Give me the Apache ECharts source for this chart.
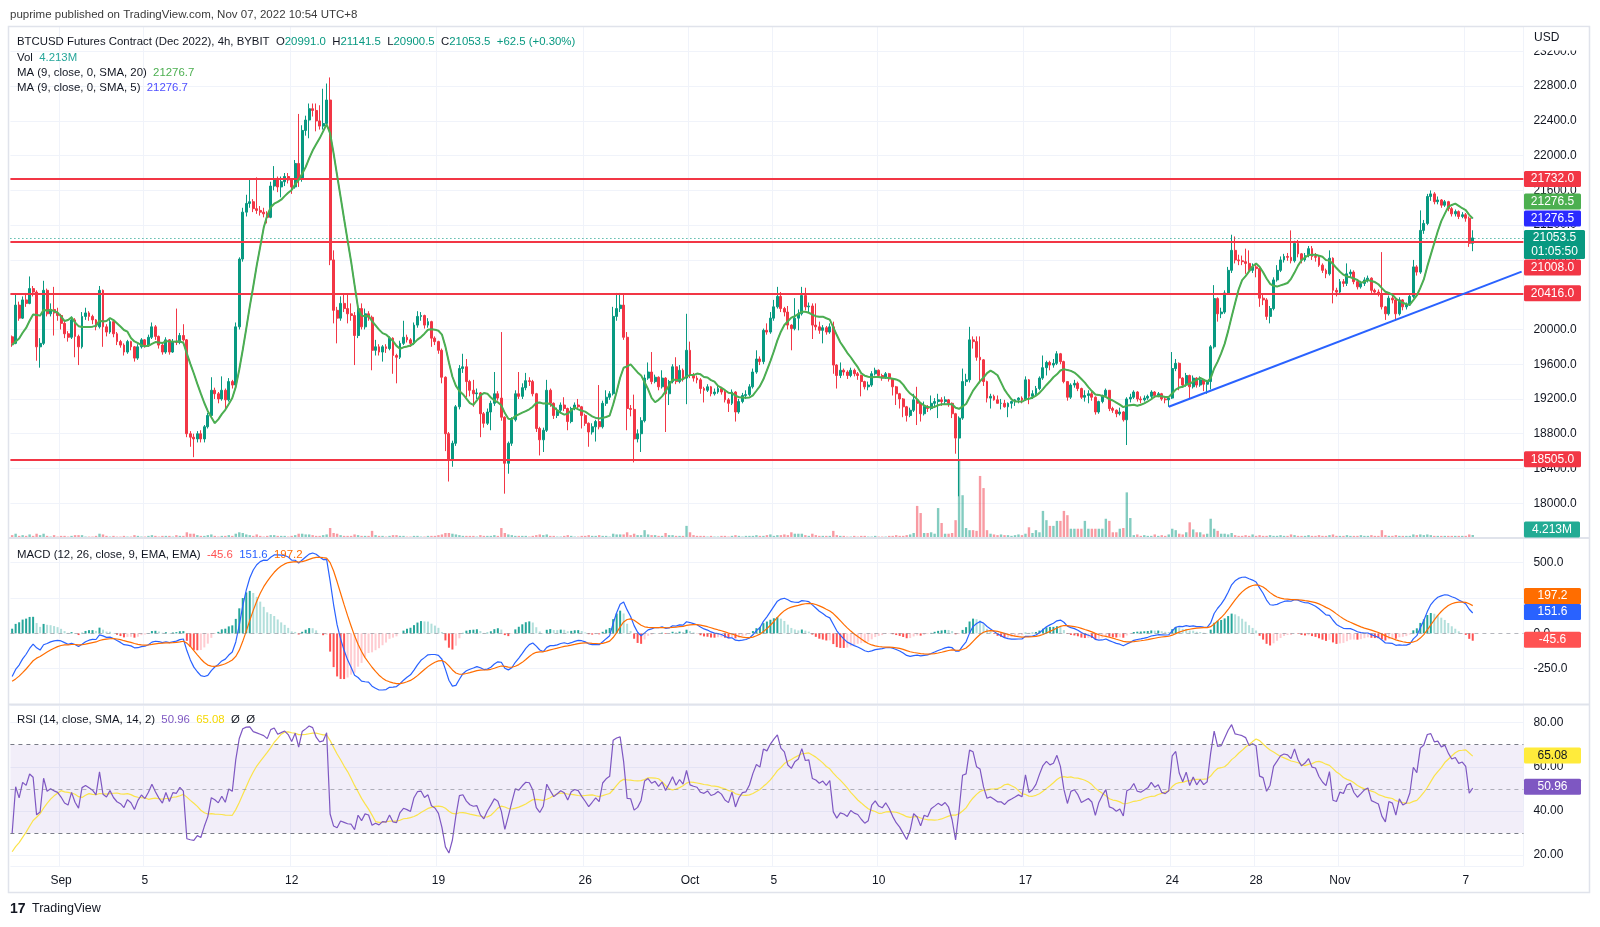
<!DOCTYPE html>
<html>
<head>
<meta charset="utf-8">
<script src="https://cdn.jsdelivr.net/npm/echarts@6/dist/echarts.min.js"></script>
<style>
  html, body { margin: 0; padding: 0; background: #ffffff; }
  #chart { width: 1600px; height: 927px; }
</style>
</head>
<body>
<div id="chart"></div>
<script>
// BTCUSD Dec 2022 futures, 4h candles, Aug 29 16:00 -> Nov 7 08:00 (UTC+8)

// closes before the visible range, only used to warm up MA / MACD / RSI
const warmupCloses = [
  21450, 21380, 21420, 21500, 21460, 21390, 21350, 21420, 21480, 21530,
  21470, 21440, 21390, 21300, 21250, 21330, 21280, 21200, 21100, 21050,
  21120, 21180, 21240, 21300, 21380, 21420, 21500, 21560, 21600, 21620,
  21580, 21650, 21700, 21620, 21560, 21500, 21520, 21450, 21300, 20700,
  20450, 20300, 20350, 20280, 20200, 20230, 20150, 20080, 20120, 20050,
  19950, 19980, 19900, 19820, 19750, 19800, 19720, 19780, 19850, 19915,
];

const closes = [
  19840, 20280, 20130, 20340, 20300, 20470, 20430, 19800, 19840, 20450, // 0
  20180, 20230, 20190, 20160, 20070, 19950, 19910, 20110, 19920, 19800, // 10
  20150, 20190, 20150, 20110, 20030, 20450, 20030, 19970, 20090, 19950, // 20
  19860, 19820, 19740, 19860, 19800, 19670, 19800, 19880, 19820, 19910, // 30
  20030, 19920, 19820, 19740, 19880, 19740, 19860, 19850, 19930, 19880, // 40
  18800, 18760, 18740, 18800, 18740, 18880, 19010, 19300, 19260, 19200, // 50
  19300, 19190, 19400, 19360, 20030, 20810, 21350, 21450, 21470, 21390, // 60
  21370, 21350, 21330, 21290, 21650, 21720, 21640, 21700, 21760, 21720, // 70
  21640, 21910, 21740, 22290, 22410, 22540, 22520, 22400, 22340, 22370, // 80
  22640, 20800, 20220, 20130, 20300, 20240, 20180, 20160, 19930, 20240, // 90
  20030, 20180, 20140, 19760, 19800, 19740, 19800, 19780, 19900, 19700, // 100
  19680, 19840, 19910, 19880, 19840, 20050, 20150, 20160, 20050, 20090, // 110
  19900, 19860, 19760, 19450, 18800, 18500, 18690, 19110, 19550, 19570, // 120
  19400, 19300, 19260, 19270, 19030, 18920, 19050, 19150, 19260, 19210, // 130
  18990, 18460, 18690, 18960, 19260, 19230, 19330, 19410, 19400, 19260, // 140
  18860, 18730, 18840, 19300, 19150, 19010, 19070, 19130, 19090, 18940, // 150
  19090, 19130, 19110, 19010, 18920, 18820, 18880, 18940, 18880, 19150, // 160
  19220, 19260, 20150, 20240, 20280, 19910, 19090, 19080, 18740, 18800, // 170
  18950, 19440, 19510, 19400, 19450, 19340, 19440, 19260, 19400, 19570, // 180
  19400, 19530, 19440, 19760, 19470, 19440, 19420, 19320, 19300, 19340, // 190
  19260, 19280, 19320, 19280, 19190, 19150, 19280, 19050, 19170, 19240, // 200
  19250, 19340, 19510, 19660, 19630, 19990, 19970, 20130, 20260, 20380, // 210
  20240, 20200, 20050, 20010, 20130, 20180, 20390, 20260, 20270, 20050, // 220
  20030, 19990, 20020, 19970, 20030, 19590, 19470, 19530, 19510, 19470, // 230
  19530, 19490, 19470, 19400, 19340, 19360, 19490, 19530, 19470, 19450, // 240
  19490, 19430, 19340, 19260, 19200, 19110, 19010, 19070, 19190, 19150, // 250
  19030, 19110, 19090, 19150, 19170, 19190, 19170, 19190, 19150, 19030, // 260
  18750, 18980, 19400, 19420, 19880, 19860, 19680, 19650, 19400, 19210, // 270
  19230, 19190, 19150, 19150, 19110, 19150, 19170, 19190, 19210, 19190, // 280
  19420, 19230, 19260, 19320, 19440, 19560, 19620, 19590, 19610, 19720, // 290
  19630, 19400, 19220, 19360, 19380, 19320, 19220, 19240, 19260, 19220, // 300
  19050, 19170, 19240, 19300, 19090, 19070, 19030, 19050, 18960, 19200, // 310
  19220, 19280, 19200, 19190, 19210, 19230, 19280, 19240, 19260, 19200, // 320
  19190, 19210, 19550, 19610, 19440, 19360, 19470, 19340, 19440, 19360, // 330
  19420, 19370, 19400, 19800, 20355, 20180, 20200, 20420, 20680, 20910, // 340
  20800, 20790, 20780, 20760, 20680, 20720, 20700, 20360, 20340, 20150, // 350
  20240, 20570, 20680, 20800, 20840, 20830, 20790, 20990, 20870, 20800, // 360
  20850, 20930, 20840, 20830, 20740, 20680, 20640, 20820, 20450, 20430, // 370
  20550, 20530, 20640, 20660, 20550, 20490, 20530, 20570, 20590, 20450, // 380
  20430, 20410, 20260, 20180, 20360, 20340, 20180, 20340, 20260, 20280, // 390
  20380, 20720, 20660, 21140, 21220, 21530, 21560, 21470, 21490, 21430, // 400
  21470, 21390, 21330, 21356, 21300, 21320, 21280, 20991, 21053.5,      // 410
];

const highs = [
  19930, 20400, 20320, 20380, 20420, 20610, 20500, 20450, 19900, 20560,
  20470, 20300, 20490, 20250, 20180, 20090, 19980, 20150, 20130, 19940,
  20200, 20250, 20210, 20170, 20120, 20500, 20460, 20060, 20130, 20100,
  19970, 19880, 19840, 19880, 19870, 19810, 19830, 19900, 19890, 19940,
  20080, 20050, 19930, 19840, 19910, 19890, 19890, 20240, 19960, 20060,
  19890, 18830, 18800, 18830, 18840, 18900, 19040, 19450, 19330, 19280,
  19460, 19320, 19440, 19420, 20080, 20830, 21400, 21550, 21740, 21500,
  21750, 21420, 21400, 21360, 21700, 21880, 21760, 21760, 21800, 21800,
  21700, 21950, 22480, 22350, 22460, 22600, 22600, 22600, 22580, 22770,
  22830, 22900, 20910, 20260, 20380, 20410, 20400, 20300, 20200, 20280,
  20300, 20240, 20210, 20160, 19880, 19830, 19820, 19830, 19920, 19910,
  19720, 19870, 20100, 19940, 19900, 20080, 20210, 20200, 20170, 20130,
  20100, 19920, 19870, 19780, 19460, 18820, 18720, 19130, 19590, 19720,
  19660, 19420, 19420, 19320, 19280, 19050, 19090, 19180, 19510, 19290,
  19970, 19000, 18710, 18990, 19300, 19510, 19380, 19500, 19450, 19420,
  19270, 18880, 18870, 19420, 19320, 19160, 19100, 19160, 19220, 19100,
  19110, 19160, 19200, 19120, 19030, 18930, 18920, 18960, 19360, 19180,
  19300, 19290, 20260, 20420, 20420, 20410, 19970, 19130, 19250, 18850,
  18990, 19480, 19620, 19740, 19480, 19460, 19530, 19450, 19420, 19600,
  19680, 19590, 19550, 20180, 19860, 19500, 19470, 19440, 19340, 19370,
  19350, 19320, 19360, 19340, 19300, 19210, 19310, 19290, 19200, 19270,
  19300, 19370, 19550, 19760, 19690, 20010, 20070, 20200, 20340, 20490,
  20430, 20260, 20270, 20060, 20360, 20230, 20490, 20480, 20310, 20300,
  20300, 20090, 20050, 20040, 20070, 20090, 19600, 19620, 19550, 19530,
  19560, 19550, 19510, 19480, 19410, 19400, 19520, 19560, 19540, 19490,
  19510, 19500, 19440, 19350, 19270, 19210, 19120, 19100, 19260, 19340,
  19160, 19170, 19130, 19240, 19210, 19260, 19220, 19230, 19200, 19160,
  19040, 19000, 19550, 19490, 20030, 19920, 19920, 19920, 19660, 19410,
  19260, 19250, 19240, 19200, 19190, 19160, 19180, 19200, 19220, 19230,
  19460, 19430, 19300, 19350, 19460, 19700, 19640, 19640, 19660, 19750,
  19730, 19640, 19400, 19380, 19420, 19400, 19330, 19300, 19300, 19280,
  19230, 19180, 19250, 19320, 19300, 19110, 19080, 19100, 19060, 19220,
  19260, 19300, 19290, 19230, 19240, 19250, 19300, 19290, 19280, 19270,
  19230, 19230, 19740, 19660, 19620, 19450, 19500, 19480, 19470, 19450,
  19460, 19430, 19420, 19820, 20510, 20370, 20250, 20450, 20720, 21090,
  21070, 20860, 20850, 20930, 20910, 20760, 20760, 20710, 20400, 20360,
  20270, 20600, 20740, 20840, 20870, 20880, 21140, 21020, 21030, 20880,
  20880, 20960, 20960, 20880, 20850, 20760, 20700, 20910, 20830, 20480,
  20580, 20580, 20760, 20690, 20680, 20570, 20560, 20600, 20620, 20600,
  20470, 20460, 20890, 20270, 20390, 20400, 20350, 20370, 20350, 20310,
  20410, 20800, 20740, 21370, 21260, 21560, 21600, 21580, 21530, 21500,
  21490, 21480, 21410, 21380, 21370, 21350, 21340, 21300, 21141.5,
];

const lows = [
  19800, 19830, 20100, 20120, 20260, 20290, 20380, 19640, 19560, 19820,
  20150, 20150, 19930, 20100, 20000, 19900, 19860, 19890, 19680, 19590,
  19780, 20110, 20100, 20060, 19990, 20010, 19800, 19920, 19950, 19910,
  19820, 19790, 19700, 19720, 19760, 19630, 19650, 19780, 19790, 19800,
  19890, 19880, 19780, 19710, 19720, 19710, 19730, 19820, 19830, 19860,
  18760, 18650, 18530, 18700, 18700, 18700, 18860, 19000, 19200, 19150,
  19180, 19080, 19170, 19320, 19340, 20000, 20780, 21300, 21400, 21350,
  21330, 21310, 21290, 21220, 21280, 21600, 21580, 21520, 21650, 21680,
  21560, 21620, 21640, 21700, 22230, 22200, 22450, 22280, 22300, 22300,
  22350, 20740, 20070, 19840, 20100, 20200, 20070, 20100, 19590, 19900,
  20000, 20000, 20100, 19530, 19700, 19700, 19630, 19730, 19760, 19490,
  19380, 19660, 19820, 19850, 19800, 19820, 20020, 20100, 20010, 20020,
  19800, 19820, 19720, 19380, 18600, 18250, 18420, 18660, 19080, 19500,
  19220, 19230, 19110, 19200, 18760, 18870, 18900, 18840, 19120, 19180,
  18950, 18110, 18340, 18660, 18940, 19200, 19200, 19300, 19350, 19230,
  18820, 18550, 18590, 18820, 19110, 18970, 18980, 19040, 19060, 18840,
  18920, 19070, 19080, 18860, 18890, 18650, 18790, 18710, 18850, 18860,
  19120, 19190, 19240, 20100, 20200, 19880, 18840, 19000, 18470, 18700,
  18590, 18930, 19420, 19370, 19380, 19300, 19320, 18820, 19130, 19380,
  19370, 19380, 19400, 19140, 19440, 19400, 19380, 19260, 19160, 19280,
  19230, 19240, 19260, 19250, 19160, 19050, 19130, 18940, 19030, 19150,
  19200, 19230, 19320, 19490, 19590, 19600, 19940, 19950, 20100, 20240,
  20200, 20150, 20000, 19760, 19990, 19990, 20160, 20220, 20200, 19890,
  19990, 19950, 19840, 19940, 19950, 19490, 19320, 19440, 19470, 19430,
  19450, 19460, 19420, 19230, 19310, 19300, 19340, 19470, 19440, 19410,
  19430, 19400, 19240, 19130, 19090, 18990, 18940, 18990, 19050, 18900,
  18940, 19010, 19050, 19070, 19110, 18980, 19120, 19140, 19110, 18980,
  18570, 18080, 18960, 19350, 19390, 19780, 19640, 19380, 19350, 19160,
  19090, 19180, 19150, 19080, 19100, 18990, 19090, 19120, 19150, 19150,
  19180, 19140, 19200, 19230, 19300, 19420, 19470, 19530, 19560, 19590,
  19600, 19380, 19180, 19200, 19330, 19290, 19200, 19170, 19150, 19180,
  19020, 19030, 19150, 19220, 19060, 19040, 18990, 19010, 18940, 18670,
  19160, 19200, 19170, 19150, 19170, 19190, 19200, 19210, 19220, 19180,
  19150, 19110, 19200, 19520, 19300, 19330, 19340, 19200, 19320, 19330,
  19340, 19290, 19260, 19310, 19780, 20090, 20130, 20180, 20400, 20650,
  20760, 20740, 20740, 20640, 20650, 20650, 20600, 20260, 20280, 20110,
  20070, 20220, 20550, 20660, 20770, 20790, 20760, 20770, 20830, 20760,
  20780, 20830, 20800, 20780, 20720, 20650, 20590, 20620, 20300, 20380,
  20400, 20490, 20500, 20600, 20520, 20460, 20470, 20500, 20540, 20420,
  20400, 20380, 20230, 20110, 20160, 20300, 20100, 20160, 20220, 20230,
  20270, 20360, 20620, 20640, 21100, 21200, 21480, 21440, 21440, 21400,
  21410, 21360, 21300, 21300, 21270, 21280, 21240, 20950, 20900.5,
];

// volume in millions
const volumes = [
  4, 6, 3, 4, 3, 5, 3, 6, 4, 6,
  3, 2, 4, 2, 3, 3, 2, 3, 4, 4,
  4, 2, 2, 2, 3, 6, 5, 3, 2, 3,
  2, 2, 3, 2, 2, 4, 3, 2, 2, 3,
  4, 3, 2, 3, 3, 3, 2, 4, 3, 3,
  8, 6, 6, 4, 3, 3, 4, 5, 3, 2,
  3, 3, 4, 3, 6, 8, 7, 5, 4, 3,
  5, 3, 2, 3, 4, 4, 3, 3, 3, 2,
  3, 4, 6, 6, 5, 5, 4, 3, 3, 4,
  5, 14, 7, 6, 4, 3, 3, 3, 5, 4,
  3, 3, 3, 10, 4, 3, 3, 2, 3, 4,
  4, 3, 3, 2, 2, 3, 3, 2, 2, 3,
  3, 3, 4, 5, 7, 7, 6, 5, 4, 3,
  3, 3, 3, 2, 4, 3, 3, 3, 4, 3,
  14, 7, 5, 4, 3, 3, 3, 3, 2, 3,
  4, 5, 4, 5, 3, 3, 2, 2, 3, 4,
  3, 2, 2, 3, 3, 4, 3, 3, 4, 3,
  3, 2, 6, 5, 5, 5, 8, 4, 6, 4,
  4, 11, 5, 4, 4, 3, 3, 7, 4, 4,
  3, 3, 3, 17, 8, 4, 3, 3, 3, 2,
  3, 2, 2, 3, 3, 2, 3, 4, 3, 2,
  3, 3, 3, 4, 3, 3, 4, 5, 3, 4,
  4, 5, 4, 8, 6, 6, 6, 4, 3, 6,
  4, 3, 3, 3, 3, 10, 4, 3, 3, 2,
  2, 3, 2, 3, 3, 2, 2, 3, 2, 2,
  2, 3, 3, 4, 3, 3, 4, 5, 7, 45,
  35, 7, 7, 8, 6, 42, 21, 6, 6, 7,
  25, 108, 60, 14, 11, 11, 10, 87, 70, 11,
  6, 5, 4, 5, 4, 4, 3, 4, 5, 4,
  6, 15, 7, 11, 8, 38, 25, 17, 17, 24,
  24, 38, 32, 13, 13, 13, 13, 24, 13, 13,
  13, 13, 13, 27, 24, 8, 8, 13, 14, 64,
  28, 4, 5, 3, 4, 3, 3, 5, 3, 4,
  3, 5, 13, 11, 6, 5, 8, 22, 12, 8,
  8, 5, 6, 27, 13, 10, 6, 6, 5, 7,
  4, 3, 3, 4, 3, 5, 3, 4, 3, 3,
  4, 3, 3, 4, 3, 3, 5, 4, 3, 3,
  3, 4, 3, 3, 4, 3, 3, 4, 5, 3,
  3, 3, 4, 3, 3, 3, 4, 3, 3, 4,
  3, 3, 11, 4, 3, 3, 4, 3, 3, 3,
  3, 5, 4, 5, 4, 5, 4, 3, 3, 3,
  3, 3, 3, 3, 3, 3, 3, 5, 4.213,
];

// drawn levels and trendline [candle index, price]
const levels = [21732, 21008, 20416, 18505];
const lastPrice = 21053.5;
const trendStart = [331, 19110];
const trendEnd = [432, 20665];

// last values shown in the legends / scale badges
const maLast = 21276.5;
const macdLast = { hist: -45.6, macd: 151.6, signal: 197.2 };
const rsiLast = { rsi: 50.96, sma: 65.08 };

const tickDates = ['2022-09-01', '2022-09-05', '2022-09-12', '2022-09-19', '2022-09-26', '2022-10-01',
  '2022-10-05', '2022-10-10', '2022-10-17', '2022-10-24', '2022-10-28', '2022-11-01', '2022-11-07'];
const tickLabels = ['Sep', '5', '12', '19', '26', 'Oct', '5', '10', '17', '24', '28', 'Nov', '7'];

const FONT = '"Liberation Sans", Arial, sans-serif';
const LEGEND_SIZE = 11.4;
const colors = {
  up: '#089981',
  down: '#f23645',
  text: '#131722',
  grid: '#f0f3fa',
  border: '#e0e3eb',
  level: '#f23645',
  ma: '#4caf50',
  ma2: '#2a2aff',
  macd: '#2962ff',
  signal: '#ff6d00',
  rsi: '#7e57c2',
  rsiMa: '#fbe34a',
};

// ---- categories (one per 4h slot, with empty room on the right)
const SLOTS = 433;
const t0 = Date.UTC(2022, 7, 29, 16);
const cats = [];
for (let i = 0; i < SLOTS; i++) {
  cats.push(new Date(t0 + i * 4 * 3600e3).toISOString().slice(0, 16));
}
const tickMap = {};
tickDates.forEach((d, k) => {
  const idx = cats.indexOf(d + 'T00:00');
  if (idx >= 0) tickMap[idx] = tickLabels[k];
});
const isTick = (idx) => Object.prototype.hasOwnProperty.call(tickMap, idx);

// ---- indicators
const W = warmupCloses.length;
const all = warmupCloses.concat(closes);

function sma(arr, n) {
  return arr.map((v, i) => {
    if (i < n - 1) return null;
    let s = 0;
    for (let k = i - n + 1; k <= i; k++) {
      if (arr[k] == null) return null;
      s += arr[k];
    }
    return s / n;
  });
}
function ema(arr, n) {
  const a = 2 / (n + 1);
  let prev = null;
  return arr.map((v) => {
    prev = prev == null ? v : v * a + prev * (1 - a);
    return prev;
  });
}
function rsi(arr, n) {
  const out = [null];
  let ag = 0, al = 0;
  for (let i = 1; i < arr.length; i++) {
    const ch = arr[i] - arr[i - 1];
    const g = Math.max(ch, 0), l = Math.max(-ch, 0);
    if (i <= n) {
      ag += g / n; al += l / n;
      out.push(i < n ? null : 100 - 100 / (1 + ag / al));
    } else {
      ag = (ag * (n - 1) + g) / n;
      al = (al * (n - 1) + l) / n;
      out.push(al === 0 ? 100 : 100 - 100 / (1 + ag / al));
    }
  }
  return out;
}

const maAll = sma(all, 9);
const e12 = ema(all, 12), e26 = ema(all, 26);
const macdAll = e12.map((v, i) => v - e26[i]);
const sigAll = ema(macdAll, 9);
const histAll = macdAll.map((v, i) => v - sigAll[i]);
const rsiAll = rsi(all, 14);
const rsiMaAll = sma(rsiAll, 14);

const ma = maAll.slice(W);
const macd = macdAll.slice(W);
const signal = sigAll.slice(W);
const hist = histAll.slice(W);
const histPrev = histAll.slice(W - 1);
const rsiLine = rsiAll.slice(W);
const rsiMa = rsiMaAll.slice(W);

const candles = closes.map((c, i) => {
  const o = i === 0 ? warmupCloses[W - 1] : closes[i - 1];
  const h = Math.max(highs[i], o, c);
  const l = Math.min(lows[i], o, c);
  return [o, c, l, h];
});

const volData = volumes.map((v, i) => ({
  value: v,
  itemStyle: { color: candles[i][1] >= candles[i][0] ? 'rgba(8,153,129,0.5)' : 'rgba(242,54,69,0.5)' },
}));

const histData = hist.map((v, i) => {
  const p = histPrev[i];
  let col;
  if (v >= 0) col = v > p ? '#26a69a' : '#b2dfdb';
  else col = v < p ? '#ff5252' : '#ffcdd2';
  return { value: v, itemStyle: { color: col } };
});

// ---- layout of panes
const PLOT_LEFT = 10.4;
const PLOT_WIDTH = 1513;
const panes = [
  { top: 26, height: 512 },
  { top: 538, height: 166 },
  { top: 705, height: 161 },
];

const xAxes = panes.map((p, k) => ({
  type: 'category',
  gridIndex: k,
  data: cats,
  boundaryGap: true,
  axisLine: { show: false },
  axisTick: { show: false },
  axisLabel: {
    show: k === 2,
    interval: (idx) => isTick(idx),
    formatter: (v, idx) => tickMap[idx] || '',
    color: colors.text,
    fontSize: 12,
    fontFamily: FONT,
    margin: 9,
  },
  splitLine: { show: true, interval: (idx) => isTick(idx), lineStyle: { color: colors.grid, width: 1 } },
}));

const axisLabelBase = { color: colors.text, fontSize: 12, fontFamily: FONT, margin: 10, showMinLabel: false, showMaxLabel: false };

const option = {
  animation: false,
  backgroundColor: '#ffffff',
  grid: panes.map((p) => ({ left: PLOT_LEFT, width: PLOT_WIDTH, top: p.top, height: p.height, outerBoundsMode: 'none', containLabel: false })),
  xAxis: xAxes,
  yAxis: [
    {
      type: 'value', gridIndex: 0, position: 'right', min: 17600, max: 23492, interval: 400, scale: true,
      axisLine: { show: false }, axisTick: { show: false },
      axisLabel: Object.assign({ formatter: (v) => v.toFixed(1) }, axisLabelBase),
      splitLine: { lineStyle: { color: colors.grid } },
    },
    { type: 'value', gridIndex: 0, min: 0, max: 718, show: false, splitLine: { show: false } },
    {
      type: 'value', gridIndex: 1, position: 'right', min: -500, max: 675, interval: 250,
      axisLine: { show: false }, axisTick: { show: false },
      axisLabel: Object.assign({ formatter: (v) => v.toFixed(1) }, axisLabelBase),
      splitLine: { lineStyle: { color: [colors.grid, colors.grid, 'rgba(0,0,0,0)', colors.grid, colors.grid, colors.grid] } },
    },
    {
      type: 'value', gridIndex: 2, position: 'right', min: 15, max: 88, splitNumber: 3,
      axisLine: { show: false }, axisTick: { show: false },
      axisLabel: Object.assign({ formatter: (v) => v.toFixed(2) }, axisLabelBase),
      splitLine: { lineStyle: { color: colors.grid } },
    },
  ],
  series: [
    {
      name: 'Vol', type: 'bar', xAxisIndex: 0, yAxisIndex: 1, data: volData, barWidth: 2.4, silent: true, z: 1,
    },
    {
      name: 'BTCUSD', type: 'candlestick', xAxisIndex: 0, yAxisIndex: 0, data: candles, barWidth: 2.4, z: 3,
      itemStyle: { color: colors.up, color0: colors.down, borderColor: colors.up, borderColor0: colors.down, borderWidth: 1 },
      markLine: {
        silent: true, symbol: 'none', label: { show: false }, animation: false,
        data: levels.map((v) => ({ yAxis: v, lineStyle: { color: colors.level, width: 2, type: 'solid' } }))
          .concat([
            { yAxis: lastPrice, lineStyle: { color: colors.up, width: 1, type: [1, 3] } },
            [
              { coord: [trendStart[0], trendStart[1]], lineStyle: { color: '#2962ff', width: 2, type: 'solid' } },
              { coord: [trendEnd[0], trendEnd[1]] },
            ],
          ]),
      },
    },
    {
      name: 'MA5', type: 'line', xAxisIndex: 0, yAxisIndex: 0, data: ma, showSymbol: false, z: 4,
      lineStyle: { color: colors.ma2, width: 1 },
    },
    {
      name: 'MA20', type: 'line', xAxisIndex: 0, yAxisIndex: 0, data: ma, showSymbol: false, z: 5,
      lineStyle: { color: colors.ma, width: 2 },
    },
    {
      name: 'Histogram', type: 'bar', xAxisIndex: 1, yAxisIndex: 2, data: histData, barWidth: 2, silent: true,
      markLine: {
        silent: true, symbol: 'none', label: { show: false },
        data: [{ yAxis: 0, lineStyle: { color: 'rgba(120,123,134,0.55)', width: 1, type: [4, 4] } }],
      },
    },
    {
      name: 'MACD', type: 'line', xAxisIndex: 1, yAxisIndex: 2, data: macd, showSymbol: false,
      lineStyle: { color: colors.macd, width: 1.2 },
    },
    {
      name: 'Signal', type: 'line', xAxisIndex: 1, yAxisIndex: 2, data: signal, showSymbol: false,
      lineStyle: { color: colors.signal, width: 1.2 },
    },
    {
      name: 'RSI', type: 'line', xAxisIndex: 2, yAxisIndex: 3, data: rsiLine, showSymbol: false, z: 4,
      lineStyle: { color: colors.rsi, width: 1.2 },
      markArea: {
        silent: true,
        itemStyle: { color: 'rgba(126,87,194,0.1)' },
        data: [[{ yAxis: 30 }, { yAxis: 70 }]],
      },
      markLine: {
        silent: true, symbol: 'none', label: { show: false },
        data: [
          { yAxis: 70, lineStyle: { color: '#787b86', width: 1, type: [4, 4] } },
          { yAxis: 50, lineStyle: { color: 'rgba(120,123,134,0.55)', width: 1, type: [4, 4] } },
          { yAxis: 30, lineStyle: { color: '#787b86', width: 1, type: [4, 4] } },
        ],
      },
    },
    {
      name: 'RSI MA', type: 'line', xAxisIndex: 2, yAxisIndex: 3, data: rsiMa, showSymbol: false, z: 3,
      lineStyle: { color: colors.rsiMa, width: 1.2 },
    },
  ],
};

const chart = echarts.init(document.getElementById('chart'));
chart.setOption(option);

// ---- overlay text, legends and scale badges
const g = [];
const txt = (x, y, text, fill, size, weight) => ({
  type: 'text', z: 100, silent: true,
  style: { x, y, text, fill, font: `${weight || 'normal'} ${size || 12}px ${FONT}`, verticalAlign: 'middle', textVerticalAlign: 'middle' },
});
const rich = (x, y, text, richStyles) => ({
  type: 'text', z: 100, silent: true,
  style: { x, y, text, rich: richStyles, fontSize: LEGEND_SIZE, fontFamily: FONT, verticalAlign: 'middle', textVerticalAlign: 'middle' },
});
const rs = (c) => ({ fill: c, fontSize: LEGEND_SIZE, fontFamily: FONT });

// frame and pane separators
g.push({ type: 'rect', z: 90, silent: true, shape: { x: 8.5, y: 26.5, width: 1581, height: 866 }, style: { fill: 'none', stroke: colors.border, lineWidth: 1.5 } });
g.push({ type: 'line', z: 90, silent: true, shape: { x1: 8, y1: 538, x2: 1590, y2: 538 }, style: { stroke: colors.border, lineWidth: 2 } });
g.push({ type: 'line', z: 90, silent: true, shape: { x1: 8, y1: 704.5, x2: 1590, y2: 704.5 }, style: { stroke: colors.border, lineWidth: 2 } });
// top of the price scale, partly hiding the first tick label
g.push({ type: 'rect', z: 95, silent: true, shape: { x: 1524, y: 27.5, width: 64, height: 23 }, style: { fill: '#ffffff' } });
g.push(txt(1534, 38, 'USD', colors.text));

g.push(txt(10, 14.5, 'puprime published on TradingView.com, Nov 07, 2022 10:54 UTC+8', '#3a3a3a', 11.5));

g.push(rich(17, 41.5,
  '{a|BTCUSD Futures Contract (Dec 2022), 4h, BYBIT}  {a|O}{b|20991.0}  {a|H}{b|21141.5}  {a|L}{b|20900.5}  {a|C}{b|21053.5}  {b|+62.5 (+0.30%)}',
  { a: rs(colors.text), b: rs(colors.up) }));
g.push(rich(17, 57.5, '{a|Vol}  {b|4.213M}', { a: rs(colors.text), b: rs('#26a69a') }));
g.push(rich(17, 72.5, '{a|MA (9, close, 0, SMA, 20)}  {b|21276.7}', { a: rs(colors.text), b: rs(colors.ma) }));
g.push(rich(17, 87.5, '{a|MA (9, close, 0, SMA, 5)}  {b|21276.7}', { a: rs(colors.text), b: rs('#5050ff') }));
g.push(rich(17, 554.5, '{a|MACD (12, 26, close, 9, EMA, EMA)}  {r|-45.6}  {m|151.6}  {s|197.2}',
  { a: rs(colors.text), r: rs('#ff5252'), m: rs(colors.macd), s: rs(colors.signal) }));
g.push(rich(17, 720, '{a|RSI (14, close, SMA, 14, 2)}  {p|50.96}  {y|65.08}  {a|Ø  Ø}',
  { a: rs(colors.text), p: rs(colors.rsi), y: rs('#f5d800') }));

// TradingView footer
g.push(txt(10, 909, '17', colors.text, 14, 'bold'));
g.push(txt(32, 909, 'TradingView', colors.text, 12.5));

// scale badges
const BX = 1524;
function badge(yc, text, fill, textFill, w, sub) {
  const h = sub ? 29 : 16;
  g.push({ type: 'rect', z: 110, silent: true, shape: { x: BX, y: yc - 8, width: w || 57, height: h, r: 1.5 }, style: { fill } });
  g.push({
    type: 'text', z: 111, silent: true,
    style: { x: BX + (w || 57) / 2, y: yc, text, fill: textFill || '#ffffff', font: `12px ${FONT}`, align: 'center', verticalAlign: 'middle', textAlign: 'center', textVerticalAlign: 'middle' },
  });
  if (sub) {
    g.push({
      type: 'text', z: 111, silent: true,
      style: { x: BX + (w || 57) / 2, y: yc + 14, text: sub, fill: textFill || '#ffffff', font: `12px ${FONT}`, align: 'center', verticalAlign: 'middle', textAlign: 'center', textVerticalAlign: 'middle' },
    });
  }
}
const py = (k, v) => chart.convertToPixel({ yAxisIndex: k }, v);

// price pane: current price badge anchors, others stack away from it
const yCur = py(0, lastPrice);
const curTop = yCur - 8, curBottom = yCur + 21;
const priceBadges = [
  { v: maLast, fill: colors.ma2, text: maLast.toFixed(1) },
  { v: maLast, fill: colors.ma, text: maLast.toFixed(1) },
].concat(levels.map((v) => ({ v, fill: colors.level, text: v.toFixed(1) })));
const above = priceBadges.filter((b) => b.v > lastPrice);
const below = priceBadges.filter((b) => b.v <= lastPrice).sort((a, b) => b.v - a.v);
let lim = curTop;
above.sort((a, b) => a.v - b.v).forEach((b) => {
  const y = Math.min(py(0, b.v), lim - 8.5);
  badge(y, b.text, b.fill);
  lim = y - 8.5;
});
lim = curBottom;
below.forEach((b) => {
  const y = Math.max(py(0, b.v), lim + 8.5);
  badge(y, b.text, b.fill);
  lim = y + 8.5;
});
badge(yCur, lastPrice.toFixed(1), colors.up, '#ffffff', 61, '01:05:50');
badge(panes[0].top + panes[0].height - 8.5, '4.213M', '#22ab94', '#ffffff', 56);

// MACD pane
const yMacd = py(2, macdLast.macd);
const ySig = Math.min(py(2, macdLast.signal), yMacd - 16);
badge(ySig, macdLast.signal.toFixed(1), colors.signal);
badge(yMacd, macdLast.macd.toFixed(1), colors.macd);
badge(Math.max(py(2, macdLast.hist), yMacd + 16), macdLast.hist.toFixed(1), '#ff5252');

// RSI pane
badge(py(3, rsiLast.sma), rsiLast.sma.toFixed(2), '#ffeb3b', '#131722');
badge(py(3, rsiLast.rsi), rsiLast.rsi.toFixed(2), colors.rsi);

chart.setOption({ graphic: g });
</script>
</body>
</html>
